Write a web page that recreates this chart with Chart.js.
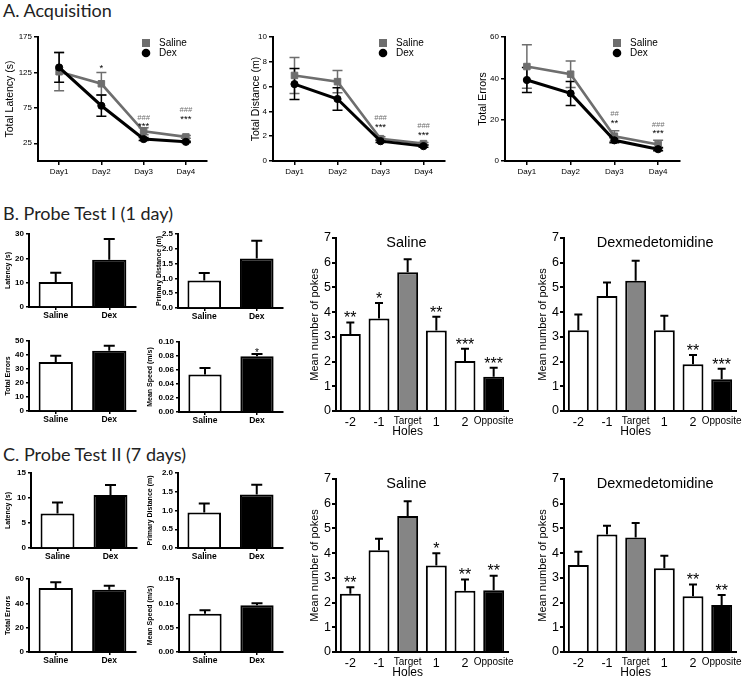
<!DOCTYPE html>
<html><head><meta charset="utf-8">
<script src="https://cdn.jsdelivr.net/npm/chart.js@4.4.1/dist/chart.umd.min.js"></script>
<style>
html,body{margin:0;padding:0;background:#fff;}
body{width:750px;height:681px;position:relative;overflow:hidden;}
canvas{position:absolute;}
.sec{position:absolute;left:3px;font-family:Lato,"Open Sans",sans-serif;font-size:18px;line-height:18px;color:#222;white-space:nowrap;}
</style></head>
<body>
<div class="sec" style="top:1px">A. Acquisition</div>
<div class="sec" style="top:204px">B. Probe Test I (1 day)</div>
<div class="sec" style="top:445px">C. Probe Test II (7 days)</div>
<script>
// ---------- DATA ----------
const days = ['Day1', 'Day2', 'Day3', 'Day4'];
const latSal = [126, 109, 42, 34];
const latSalErr = [27, 16, 5, 2];
const latDex = [132, 78, 31, 27];
const latDexErr = [21, 15, 2, 1];
const latTicks = [25, 75, 125, 175];
const latHash = ['', '', '###', '###'];
const latStar = ['', '*', '***', '***'];

const distSal = [6.9, 6.4, 1.8, 1.4];
const distSalErr = [1.45, 0.9, 0.15, 0.1];
const distDex = [6.2, 5.0, 1.6, 1.2];
const distDexErr = [1.25, 0.9, 0.1, 0.1];
const distHash = ['', '', '###', '###'];
const distStar = ['', '', '***', '***'];

const errSal = [45.7, 42, 12, 8];
const errSalErr = [10.5, 6.4, 2.6, 2];
const errDex = [39.2, 32.7, 10, 5.7];
const errDexErr = [6, 5.8, 1.2, 0.8];
const errHash = ['', '', '##', '###'];
const errStar = ['', '', '**', '***'];

const groups = ['Saline', 'Dex'];
const p1Latency = [10.3, 19.4], p1LatencyErr = [3.8, 8.5];
const p1Distance = [0.93, 1.67], p1DistanceErr = [0.25, 0.6];
const p1Errors = [35, 43], p1ErrorsErr = [4.4, 3.6];
const p1Speed = [0.0536, 0.0796], p1SpeedErr = [0.0094, 0.0034];
const p1SpeedSig = ['', '*'];
const p2Latency = [6.9, 10.6], p2LatencyErr = [2.2, 2.0];
const p2Distance = [0.95, 1.43], p2DistanceErr = [0.24, 0.26];
const p2Errors = [52.6, 51.2], p2ErrorsErr = [4.7, 3.3];
const p2Speed = [0.0788, 0.0959], p2SpeedErr = [0.0068, 0.0041];

const holes = ['-2', '-1', 'Target', '1', '2', 'Opposite'];
const salI = [3.12, 3.74, 5.61, 3.26, 2.02, 1.39];
const salIErr = [0.46, 0.63, 0.53, 0.55, 0.5, 0.36];
const salISig = ['**', '*', '', '**', '***', '***'];
const dexI = [3.27, 4.65, 5.27, 3.27, 1.89, 1.28];
const dexIErr = [0.63, 0.55, 0.81, 0.58, 0.38, 0.43];
const dexISig = ['', '', '', '', '**', '***'];
const salII = [2.36, 4.12, 5.5, 3.5, 2.48, 2.5];
const salIIErr = [0.26, 0.46, 0.6, 0.5, 0.45, 0.59];
const salIISig = ['**', '', '', '*', '**', '**'];
const dexII = [3.52, 4.75, 4.63, 3.39, 2.26, 1.9];
const dexIIErr = [0.54, 0.36, 0.59, 0.5, 0.47, 0.41];
const dexIISig = ['', '', '', '', '**', '**'];

// ---------- STYLE ----------
const F = '"Liberation Sans", Arial, sans-serif';
const GRAY = '#6e6e6e';
const holeColors = ['#fff', '#fff', '#858585', '#fff', '#fff', '#000'];
const groupColors = ['#fff', '#000'];
const cfgMap = new WeakMap();

function drawErr(chart, ex) {
  const ctx = chart.ctx, ys = chart.scales.y;
  ctx.save();
  ex.err.forEach((errs, d) => {
    if (!errs) return;
    const meta = chart.getDatasetMeta(d);
    const vals = chart.data.datasets[d].data;
    ctx.strokeStyle = ex.errColor[d];
    ctx.lineWidth = ex.errLW;
    meta.data.forEach((el, i) => {
      const x = el.x, v = vals[i], e = errs[i];
      const yt = ys.getPixelForValue(v + e);
      const yb = ys.getPixelForValue(ex.both ? v - e : v);
      ctx.beginPath();
      ctx.moveTo(x, yt); ctx.lineTo(x, yb);
      ctx.moveTo(x - ex.cap / 2, yt); ctx.lineTo(x + ex.cap / 2, yt);
      if (ex.both) { ctx.moveTo(x - ex.cap / 2, yb); ctx.lineTo(x + ex.cap / 2, yb); }
      ctx.stroke();
    });
  });
  ctx.restore();
}
function drawSig(chart, ex) {
  const ctx = chart.ctx, ys = chart.scales.y;
  const d = ex.sigDs || 0;
  const meta = chart.getDatasetMeta(d), vals = chart.data.datasets[d].data, errs = ex.err[d];
  ctx.save();
  ctx.textAlign = 'center';
  ctx.textBaseline = 'alphabetic';
  ex.sig.forEach(row => {
    row.marks.forEach((m, i) => {
      if (!m) return;
      const lift = Array.isArray(ex.lift) ? ex.lift[i] : ex.lift;
      const cy = ys.getPixelForValue(vals[i] + errs[i]) - lift - row.up;
      const k = m[0] === '*' ? 0.58 : 0.36;
      ctx.font = row.font;
      ctx.fillStyle = row.color;
      ctx.fillText(m, meta.data[i].x, cy + k * row.size);
    });
  });
  ctx.restore();
}
function drawLegend(chart, ex) {
  const ctx = chart.ctx, a = chart.chartArea;
  const x = a.left + ex.legend.dx, y1 = a.top + 6, y2 = a.top + 16;
  ctx.save();
  ctx.fillStyle = GRAY; ctx.fillRect(x - 4, y1 - 4, 8, 8);
  ctx.fillStyle = '#000'; ctx.beginPath(); ctx.arc(x, y2, 4.3, 0, Math.PI * 2); ctx.fill();
  ctx.font = '10px ' + F; ctx.textBaseline = 'middle'; ctx.textAlign = 'left';
  ctx.fillText('Saline', x + 13, y1 + 0.5);
  ctx.fillText('Dex', x + 13, y2 + 0.5);
  ctx.restore();
}
function drawTexts(chart, ex) {
  const ctx = chart.ctx, a = chart.chartArea;
  ctx.save();
  ctx.textAlign = 'center'; ctx.textBaseline = 'middle'; ctx.fillStyle = '#000';
  ex.texts.forEach(t => {
    ctx.font = t.font;
    const x = t.cat != null ? chart.scales.x.getPixelForValue(t.cat) : a.left + t.fx * (a.right - a.left);
    const y = t.from === 'bottom' ? a.bottom + t.dy : a.top + t.dy;
    ctx.fillText(t.text, x, y);
  });
  ctx.restore();
}
const extras = {
  id: 'extras',
  beforeDatasetsDraw(chart) { const ex = cfgMap.get(chart.canvas); if (ex && ex.errBelow) drawErr(chart, ex); },
  afterDatasetsDraw(chart) {
    const ex = cfgMap.get(chart.canvas); if (!ex) return;
    if (!ex.errBelow) drawErr(chart, ex);
    if (ex.sig) drawSig(chart, ex);
    if (ex.legend) drawLegend(chart, ex);
    if (ex.texts) drawTexts(chart, ex);
  }
};

function make(o) {
  const c = document.createElement('canvas');
  c.width = o.w; c.height = o.h;
  c.style.left = o.left + 'px'; c.style.top = o.top + 'px';
  document.body.appendChild(c);
  cfgMap.set(c, o.ex);
  const p = o.plot;
  const yW = p.l - o.left, xH = o.top + o.h - p.b;
  const grid = (tl) => ({ display: true, drawOnChartArea: false, drawTicks: tl > 0, tickLength: tl, color: '#000', lineWidth: o.tickW || 1.5, offset: false });
  const yScale = {
    min: o.y.min, max: o.y.max,
    grid: grid(o.yTick), border: { display: true, color: '#000', width: o.axisW },
    ticks: { color: '#000', font: o.yFont, padding: o.yPad, stepSize: o.y.step,
      callback: v => (o.y.dec != null ? Number(v).toFixed(o.y.dec) : String(v)) },
    title: { display: true, text: o.y.title, color: '#000', font: o.titleFont, padding: { top: 4, bottom: 0 } },
    afterFit: s => { s.width = yW; }
  };
  if (o.y.ticks) yScale.afterBuildTicks = s => { s.ticks = o.y.ticks.map(v => ({ value: v })); };
  return new Chart(c, {
    type: o.type,
    data: { labels: o.labels, datasets: o.datasets },
    options: {
      responsive: false, animation: false, events: [],
      layout: { padding: { top: p.t - o.top, right: o.left + o.w - p.r, left: 0, bottom: 0 } },
      plugins: { legend: { display: false }, tooltip: { enabled: false } },
      scales: {
        x: { type: 'category', offset: true, grid: grid(o.xTick), border: { display: true, color: '#000', width: o.axisW },
          ticks: { color: '#000', font: o.xFont, padding: o.xPad, maxRotation: 0, autoSkip: false },
          afterFit: s => { s.height = xH; } },
        y: yScale
      }
    },
    plugins: [extras]
  });
}

// ---------- LINE CHARTS (A) ----------
function lineChart(left, top, w, h, plot, sal, salE, dex, dexE, y, hash, star, lift, legendDx) {
  make({
    type: 'line', left, top, w, h, plot, labels: days,
    datasets: [
      { label: 'Saline', data: sal, borderColor: GRAY, backgroundColor: GRAY, pointStyle: 'rect', pointRadius: 4.6, pointBorderWidth: 1, borderWidth: 2.6, order: 1 },
      { label: 'Dex', data: dex, borderColor: '#000', backgroundColor: '#000', pointStyle: 'circle', pointRadius: 3.6, pointBorderWidth: 1, borderWidth: 3, order: 0 }
    ],
    y, axisW: 2, xTick: 4, yTick: 4, tickW: 1.5, xPad: 2, yPad: 2,
    xFont: { family: F, size: 8 }, yFont: { family: F, size: 8 }, titleFont: { family: F, size: 10.5 },
    ex: {
      err: [salE, dexE], errColor: [GRAY, '#000'], both: true, cap: 10, errLW: 1.5, errBelow: true,
      sigDs: 0, lift,
      sig: [
        { marks: hash, font: 'italic 7.5px ' + F, size: 7.5, color: '#707070', up: 6.7 },
        { marks: star, font: '9.5px ' + F, size: 9.5, color: '#000', up: 0 }
      ],
      legend: { dx: legendDx }
    }
  });
}
lineChart(0, 25, 240, 165, { l: 38, t: 37, r: 207, b: 161 }, latSal, latSalErr, latDex, latDexErr,
  { min: 0, max: 175, ticks: latTicks, title: 'Total Latency (s)' }, latHash, latStar, [0, 7, 4, 19.5], 108);
lineChart(246, 25, 229, 165, { l: 273, t: 37, r: 445, b: 161 }, distSal, distSalErr, distDex, distDexErr,
  { min: 0, max: 10, step: 2, title: 'Total Distance (m)' }, distHash, distStar, [0, 0, 12.5, 10], 110);
lineChart(473, 25, 277, 165, { l: 505, t: 37, r: 680, b: 161 }, errSal, errSalErr, errDex, errDexErr,
  { min: 0, max: 60, step: 20, title: 'Total Errors' }, errHash, errStar, [0, 0, 10.8, 9.6], 112);

// ---------- SMALL BAR CHARTS ----------
function smallBar(left, top, w, h, plot, vals, errs, y, sig) {
  const ex = { err: [errs], errColor: ['#000'], both: false, cap: 11, errLW: 2 };
  if (sig) { ex.sig = [{ marks: sig, font: '10px ' + F, size: 10, color: '#000', up: 0 }]; ex.lift = 4; }
  make({
    type: 'bar', left, top, w, h, plot, labels: groups,
    datasets: [{ data: vals, backgroundColor: groupColors, borderColor: '#000', borderWidth: 2, borderSkipped: 'bottom', barPercentage: 0.64, categoryPercentage: 1 }],
    y, axisW: 2, xTick: 3, yTick: 3, tickW: 1.5, xPad: 1, yPad: 2,
    xFont: { family: F, size: 8.5, weight: 'bold' }, yFont: { family: F, size: 8, weight: 'bold' },
    titleFont: { family: F, size: 7, weight: 'bold' }, ex
  });
}
smallBar(0, 225, 140, 100, { l: 29, t: 234, r: 136, b: 307 }, p1Latency, p1LatencyErr, { min: 0, max: 30, step: 10, title: 'Latency (s)' });
smallBar(151, 225, 140, 100, { l: 178, t: 234, r: 283, b: 308 }, p1Distance, p1DistanceErr, { min: 0, max: 2.5, step: 0.5, dec: 1, title: 'Primary Distance (m)' });
smallBar(0, 332, 140, 100, { l: 29, t: 341, r: 136, b: 411 }, p1Errors, p1ErrorsErr, { min: 0, max: 50, step: 10, title: 'Total Errors' });
smallBar(142, 332, 150, 100, { l: 179, t: 342, r: 283, b: 412 }, p1Speed, p1SpeedErr, { min: 0, max: 0.1, step: 0.02, dec: 2, title: 'Mean Speed (m/s)' }, p1SpeedSig);

smallBar(0, 465, 140, 100, { l: 31, t: 473, r: 137, b: 548 }, p2Latency, p2LatencyErr, { min: 0, max: 15, step: 5, title: 'Latency (s)' });
smallBar(142, 465, 150, 100, { l: 178, t: 473, r: 283, b: 548 }, p2Distance, p2DistanceErr, { min: 0, max: 2, step: 0.5, dec: 1, title: 'Primary Distance (m)' });
smallBar(0, 570, 140, 100, { l: 29, t: 579, r: 136, b: 652 }, p2Errors, p2ErrorsErr, { min: 0, max: 60, step: 20, title: 'Total Errors' });
smallBar(142, 570, 150, 100, { l: 179, t: 579, r: 283, b: 652 }, p2Speed, p2SpeedErr, { min: 0, max: 0.15, step: 0.05, dec: 2, title: 'Mean Speed (m/s)' });

// ---------- POKES BAR CHARTS ----------
function pokeBar(left, top, w, h, plot, vals, errs, sig, title, titleFx) {
  make({
    type: 'bar', left, top, w, h, plot, labels: holes,
    datasets: [{ data: vals, backgroundColor: holeColors, borderColor: '#000', borderWidth: 2, borderSkipped: 'bottom', barPercentage: 0.73, categoryPercentage: 1 }],
    y: { min: 0, max: 7, step: 1, title: 'Mean number of pokes' },
    axisW: 2, xTick: 0, yTick: 4, tickW: 2, xPad: 4, yPad: 1,
    xFont: (ctx) => ({ family: F, size: (holes[ctx.index] || '').length > 2 ? 10 : 12.5 }),
    yFont: { family: F, size: 12.5 }, titleFont: { family: F, size: 11 },
    ex: {
      err: [errs], errColor: ['#000'], both: false, cap: 8, errLW: 2,
      sig: [{ marks: sig, font: '16px ' + F, size: 16, color: '#000', up: 0 }], lift: 8.5,
      texts: [
        { text: title, fx: titleFx, dy: 5, font: '14.5px ' + F },
        { text: 'Holes', cat: 2, from: 'bottom', dy: 21, font: '12px ' + F }
      ]
    }
  });
}
pokeBar(304, 225, 220, 215, { l: 336, t: 238, r: 508, b: 411 }, salI, salIErr, salISig, 'Saline', 0.41);
pokeBar(532, 225, 218, 215, { l: 564, t: 238, r: 736, b: 411 }, dexI, dexIErr, dexISig, 'Dexmedetomidine', 0.53);
pokeBar(304, 465, 220, 216, { l: 336, t: 479, r: 508, b: 652 }, salII, salIIErr, salIISig, 'Saline', 0.41);
pokeBar(532, 465, 218, 216, { l: 564, t: 479, r: 736, b: 652 }, dexII, dexIIErr, dexIISig, 'Dexmedetomidine', 0.53);
</script>
</body></html>
